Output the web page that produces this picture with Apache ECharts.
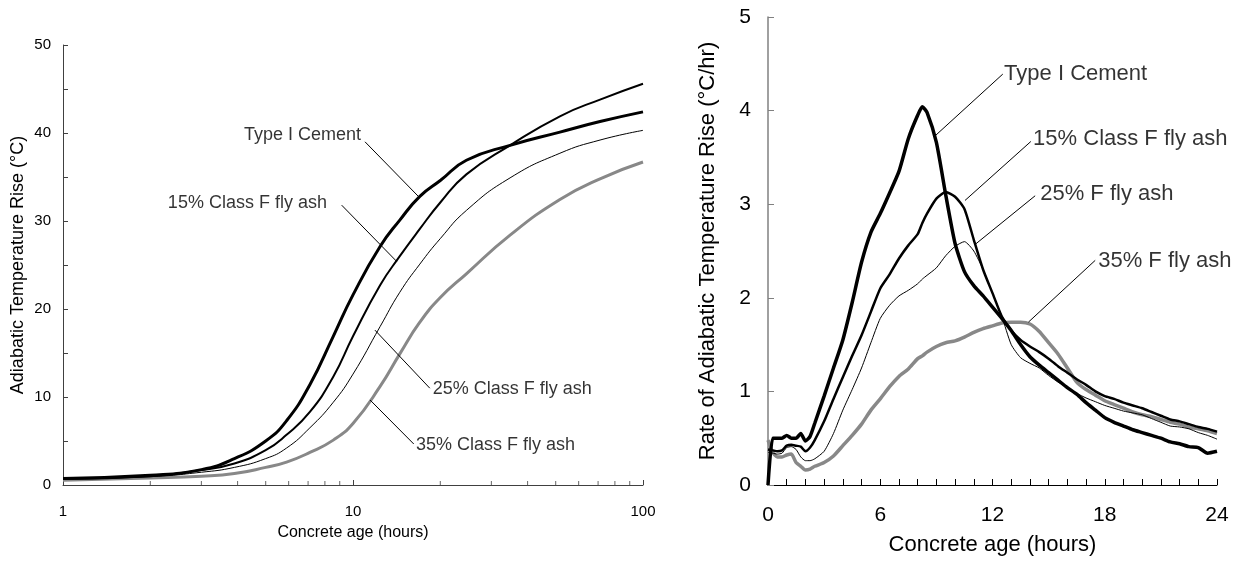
<!DOCTYPE html>
<html>
<head>
<meta charset="utf-8">
<script src="https://cdn.jsdelivr.net/npm/echarts@6/dist/echarts.min.js"></script>
<style>
  html, body { margin: 0; padding: 0; background: #fff; }
  #container { width: 1244px; height: 561px; }
</style>
</head>
<body>
<div id="container"></div>
<script>
// left chart: adiabatic temperature rise (log time axis)
var tempHours = [1, 2, 3, 3.9, 5, 5.9, 7.1, 8.55, 10, 12.4, 14.5, 17, 20, 24.6, 34.8, 51.7, 71.1, 100];
var tempType1 = [0.75, 1.1, 1.75, 3.0, 5.0, 7.3, 11.4, 16.9, 21.6, 27.1, 30.1, 32.8, 34.6, 36.9, 38.6, 40.1, 41.3, 42.4];
var temp15 = [0.7, 1.0, 1.7, 2.45, 3.95, 5.7, 8.3, 12.3, 16.9, 22.7, 26.0, 29.1, 32.1, 35.3, 38.6, 41.9, 43.8, 45.6];
var temp25 = [0.65, 0.95, 1.45, 2.0, 3.0, 4.2, 6.5, 9.4, 12.6, 18.0, 21.9, 25.1, 28.0, 31.2, 34.9, 37.7, 39.2, 40.3];
var temp35 = [0.55, 0.8, 1.0, 1.3, 2.0, 2.6, 3.7, 5.1, 7.0, 11.2, 14.9, 18.5, 21.3, 24.0, 28.4, 32.45, 34.8, 36.7];
var minorTickHours = [2, 3, 4, 5, 6, 7, 8, 9, 20, 30, 40, 50, 60, 70, 80, 90];

// right chart: rate of temperature rise
var rateHours = [0, 0.25, 0.5, 0.75, 1, 1.25, 1.5, 1.75, 2, 2.25, 2.5, 3, 3.5, 4, 4.5, 5, 5.5, 6, 6.5, 7, 7.5, 8, 8.25, 8.5, 9, 9.5, 10, 10.5, 11, 11.5, 12, 12.5, 13, 13.5, 14, 14.5, 15, 15.5, 16, 16.5, 17, 17.5, 18, 18.5, 19, 19.5, 20, 20.5, 21, 21.5, 22, 22.5, 23, 23.5, 24];
var rateType1 = [0, 0.5, 0.5, 0.5, 0.53, 0.5, 0.5, 0.55, 0.47, 0.52, 0.66, 0.95, 1.25, 1.55, 1.95, 2.38, 2.7, 2.9, 3.12, 3.35, 3.7, 3.95, 4.04, 3.98, 3.66, 3.1, 2.58, 2.28, 2.13, 2.02, 1.9, 1.78, 1.65, 1.5, 1.37, 1.28, 1.2, 1.12, 1.04, 0.97, 0.88, 0.8, 0.72, 0.67, 0.63, 0.59, 0.56, 0.53, 0.5, 0.46, 0.44, 0.41, 0.4, 0.34, 0.36];
var rate15 = [0.38, 0.37, 0.36, 0.37, 0.42, 0.43, 0.42, 0.41, 0.36, 0.4, 0.48, 0.68, 0.92, 1.15, 1.38, 1.6, 1.85, 2.1, 2.25, 2.42, 2.56, 2.68, 2.8, 2.9, 3.06, 3.13, 3.08, 2.95, 2.62, 2.3, 2.05, 1.8, 1.65, 1.55, 1.48, 1.42, 1.35, 1.27, 1.2, 1.13, 1.07, 1.0, 0.95, 0.92, 0.88, 0.85, 0.82, 0.78, 0.74, 0.7, 0.68, 0.65, 0.62, 0.6, 0.57];
var rate25 = [0.35, 0.34, 0.33, 0.34, 0.4, 0.41, 0.38, 0.3, 0.26, 0.26, 0.28, 0.36, 0.55, 0.8, 1.02, 1.25, 1.52, 1.78, 1.92, 2.02, 2.08, 2.15, 2.2, 2.24, 2.32, 2.45, 2.55, 2.6, 2.5, 2.3, 2.05, 1.8, 1.5, 1.36, 1.3, 1.25, 1.17, 1.1, 1.04, 0.98, 0.93, 0.89, 0.85, 0.82, 0.79, 0.77, 0.75, 0.71, 0.67, 0.63, 0.62, 0.6, 0.56, 0.53, 0.49];
var rate35 = [0.48, 0.35, 0.3, 0.3, 0.32, 0.33, 0.24, 0.2, 0.16, 0.17, 0.2, 0.24, 0.31, 0.42, 0.53, 0.65, 0.8, 0.92, 1.05, 1.16, 1.24, 1.35, 1.38, 1.42, 1.48, 1.52, 1.54, 1.58, 1.63, 1.67, 1.7, 1.73, 1.74, 1.74, 1.72, 1.64, 1.52, 1.4, 1.25, 1.1, 1.02, 0.96, 0.9, 0.86, 0.82, 0.78, 0.75, 0.73, 0.7, 0.67, 0.65, 0.62, 0.6, 0.58, 0.55];

// annotations (data coordinates)
var leftLeaders = [[[11.0, 39.0], [16.8, 32.8]], [[9.14, 31.8], [14.15, 25.4]], [[11.9, 17.6], [18.4, 11.0]], [[11.45, 9.66], [16.2, 4.66]]];
var leftLabels = [['Type I Cement', 10.66, 39.77, 'left'], ['15% Class F fly ash', 8.13, 32.05, 'left'], ['25% Class F fly ash', 18.83, 10.9, 'right'], ['35% Class F fly ash', 16.49, 4.55, 'right']];
var rightLeaders = [[[8.93, 3.73], [12.55, 4.39]], [[10.53, 3.04], [14.05, 3.67]], [[11.07, 2.57], [14.28, 3.09]], [[13.92, 1.74], [17.49, 2.4]]];
var rightLabels = [['Type I Cement', 12.62, 4.39, 'right'], ['15% Class F fly ash', 14.17, 3.7, 'right'], ['25% F fly ash', 14.55, 3.11, 'right'], ['35% F fly ash', 17.65, 2.39, 'right']];

var FONT = 'Arial, "Liberation Sans", sans-serif';

function pairs(xs, ys) {
  var out = [];
  for (var i = 0; i < xs.length; i++) out.push([xs[i], ys[i]]);
  return out;
}

function lineSeries(idx, xs, ys, color, width, smooth) {
  return {
    type: 'line', xAxisIndex: idx, yAxisIndex: idx,
    data: pairs(xs, ys), showSymbol: false, smooth: smooth,
    lineStyle: { color: color, width: width }, silent: true, z: 3
  };
}

function leaderSeries(idx, leaders) {
  return {
    type: 'lines', coordinateSystem: 'cartesian2d', xAxisIndex: idx, yAxisIndex: idx,
    data: leaders.map(function (l) { return { coords: l }; }),
    lineStyle: { color: '#000', width: 1, opacity: 1 }, silent: true, z: 4
  };
}

function labelSeries(idx, labels, size) {
  return {
    type: 'scatter', xAxisIndex: idx, yAxisIndex: idx, symbolSize: 0, silent: true, z: 5,
    data: labels.map(function (l) {
      return {
        value: [l[1], l[2]], name: l[0],
        label: { show: true, position: l[3], distance: 0, formatter: '{b}',
                 color: '#000', fontSize: size, fontFamily: FONT }
      };
    })
  };
}

var dom = document.getElementById('container');
var myChart = echarts.init(dom);

var option = {
  animation: false,
  backgroundColor: '#fff',
  grid: [
    { left: 63, top: 45, width: 580, height: 440 },
    { left: 768, top: 17, width: 449, height: 470 }
  ],
  xAxis: [
    {
      gridIndex: 0, type: 'log', logBase: 10, min: 1, max: 100,
      name: 'Concrete age (hours)', nameLocation: 'middle', nameGap: 40,
      nameTextStyle: { color: '#000', fontSize: 16, fontFamily: FONT },
      axisLine: { lineStyle: { color: '#404040', width: 1 } },
      axisTick: { inside: true, length: 5, lineStyle: { color: '#404040' } },
      axisLabel: { color: '#000', fontSize: 15, fontFamily: FONT, margin: 19 },
      splitLine: { show: false }
    },
    {
      gridIndex: 1, type: 'value', min: 0, max: 24, interval: 1,
      name: 'Concrete age (hours)', nameLocation: 'middle', nameGap: 49,
      nameTextStyle: { color: '#000', fontSize: 22, fontFamily: FONT },
      axisLine: { lineStyle: { color: '#000', width: 1 } },
      axisTick: { inside: true, length: 6, lineStyle: { color: '#000' } },
      axisLabel: { color: '#000', fontSize: 21, fontFamily: FONT, margin: 20,
        formatter: function (v) { return v % 6 === 0 ? String(v) : ''; } },
      splitLine: { show: false }
    }
  ],
  yAxis: [
    {
      gridIndex: 0, type: 'value', min: 0, max: 50, interval: 5,
      name: 'Adiabatic Temperature Rise (°C)', nameLocation: 'middle', nameGap: 36,
      nameTextStyle: { color: '#000', fontSize: 18, fontFamily: FONT },
      axisLine: { show: true, lineStyle: { color: '#404040', width: 1 } },
      axisTick: { show: true, inside: true, length: 5, lineStyle: { color: '#404040' } },
      axisLabel: { color: '#000', fontSize: 15, fontFamily: FONT, margin: 12,
        formatter: function (v) { return v % 10 === 0 ? String(v) : ''; } },
      splitLine: { show: false }
    },
    {
      gridIndex: 1, type: 'value', min: 0, max: 5, interval: 1,
      name: 'Rate of Adiabatic Temperature Rise (°C/hr)', nameLocation: 'middle', nameGap: 49,
      nameTextStyle: { color: '#000', fontSize: 22, fontFamily: FONT },
      axisLine: { show: true, lineStyle: { color: '#808080', width: 1.5 } },
      axisTick: { show: true, inside: true, length: 6, lineStyle: { color: '#808080' } },
      axisLabel: { color: '#000', fontSize: 21, fontFamily: FONT, margin: 17 },
      splitLine: { show: false }
    }
  ],
  series: [
    lineSeries(0, tempHours, temp35, '#888888', 3, 0.5),
    lineSeries(0, tempHours, temp25, '#000', 1, 0.5),
    lineSeries(0, tempHours, temp15, '#000', 2, 0.5),
    lineSeries(0, tempHours, tempType1, '#000', 3, 0.5),
    {
      // minor log ticks on the bottom axis
      type: 'scatter', xAxisIndex: 0, yAxisIndex: 0, silent: true,
      data: minorTickHours.map(function (h) { return [h, 0]; }),
      symbol: 'rect', symbolSize: [1, 4], symbolOffset: [0, -2],
      itemStyle: { color: '#404040' }, z: 6
    },
    leaderSeries(0, leftLeaders),
    labelSeries(0, leftLabels, 18),

    lineSeries(1, rateHours, rate35, '#888888', 3.5, 0.2),
    lineSeries(1, rateHours, rate25, '#000', 1, 0.2),
    lineSeries(1, rateHours, rate15, '#000', 2.5, 0.2),
    lineSeries(1, rateHours, rateType1, '#000', 3.5, 0.2),
    leaderSeries(1, rightLeaders),
    labelSeries(1, rightLabels, 22)
  ]
};
myChart.setOption(option);
</script>
</body>
</html>
